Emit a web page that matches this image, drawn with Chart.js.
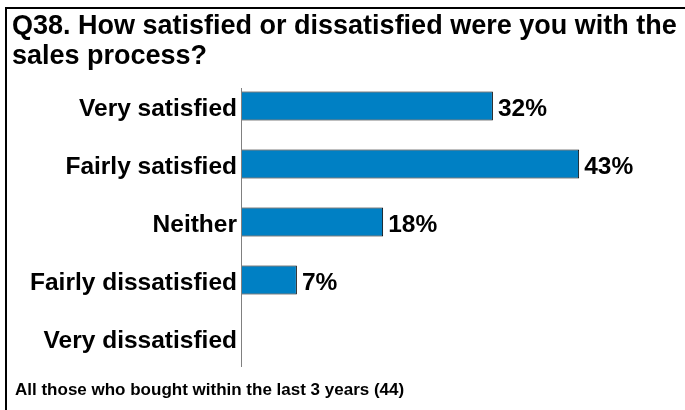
<!DOCTYPE html>
<html>
<head>
<meta charset="utf-8">
<script src="https://cdn.jsdelivr.net/npm/chart.js@4/dist/chart.umd.min.js"></script>
<style>
  html, body { margin: 0; padding: 0; background: #fff; overflow: hidden; }
  #wrap { position: relative; width: 685px; height: 410px; }
  #frame {
    position: absolute; left: 5px; top: 7px; width: 800px; height: 500px;
    border-top: 2px solid #000; border-left: 2px solid #000; pointer-events: none;
  }
  canvas { position: absolute; left: 0; top: 0; }
</style>
</head>
<body>
<div id="wrap">
  <canvas id="chart" width="685" height="410"></canvas>
  <div id="frame"></div>
</div>
<script>
const categories = ['Very satisfied', 'Fairly satisfied', 'Neither', 'Fairly dissatisfied', 'Very dissatisfied'];
const percentages = [32, 43, 18, 7, 0];
const titleLines = ['Q38. How satisfied or dissatisfied were you with the', 'sales process?'];
const baseNote = 'All those who bought within the last 3 years (44)';

const FONT = '"Liberation Sans", Arial, Helvetica, sans-serif';

// Percentage labels to the right of each bar (empty categories get none)
const valueLabels = {
  id: 'valueLabels',
  afterDatasetsDraw(chart) {
    const { ctx } = chart;
    const meta = chart.getDatasetMeta(0);
    ctx.save();
    ctx.font = 'bold 24.5px ' + FONT;
    ctx.fillStyle = '#000';
    ctx.textAlign = 'left';
    ctx.textBaseline = 'middle';
    meta.data.forEach((bar, i) => {
      const v = percentages[i];
      if (!v) return;
      ctx.fillText(v + '%', bar.x + 5, bar.y + 3);
    });
    ctx.restore();
  }
};

// Category axis line and the base note under the plot
const decorations = {
  id: 'decorations',
  afterDraw(chart) {
    const { ctx, chartArea } = chart;
    ctx.save();
    ctx.strokeStyle = '#808080';
    ctx.lineWidth = 1;
    ctx.beginPath();
    ctx.moveTo(chartArea.left - 0.5, chartArea.top + 11);
    ctx.lineTo(chartArea.left - 0.5, chartArea.bottom);
    ctx.stroke();

    ctx.font = 'bold 17px ' + FONT;
    ctx.fillStyle = '#000';
    ctx.textAlign = 'left';
    ctx.textBaseline = 'alphabetic';
    ctx.fillText(baseNote, 15, chartArea.bottom + 28);
    ctx.restore();
  }
};

new Chart(document.getElementById('chart'), {
  type: 'bar',
  data: {
    labels: categories,
    datasets: [{
      data: percentages,
      backgroundColor: '#0080C4',
      borderColor: '#000',
      borderWidth: 1,
      borderSkipped: 'left',
      barPercentage: 1,
      categoryPercentage: 0.5
    }]
  },
  options: {
    indexAxis: 'y',
    responsive: false,
    animation: false,
    events: [],
    layout: { padding: { left: 12, right: 0, top: 12, bottom: 43 } },
    scales: {
      x: { display: false, min: 0, max: 56.5 },
      y: {
        grid: { display: false, drawTicks: false },
        border: { display: false },
        ticks: {
          color: '#000',
          padding: 5,
          labelOffset: 3,
          font: { family: FONT, size: 24.5, weight: 'bold' }
        },
        afterFit(scale) { scale.width = 230; }
      }
    },
    plugins: {
      legend: { display: false },
      tooltip: { enabled: false },
      title: {
        display: true,
        text: titleLines,
        align: 'start',
        color: '#000',
        font: { family: FONT, size: 27, weight: 'bold', lineHeight: '30px' },
        padding: { top: 0, bottom: 5 }
      }
    }
  },
  plugins: [valueLabels, decorations]
});
</script>
</body>
</html>
